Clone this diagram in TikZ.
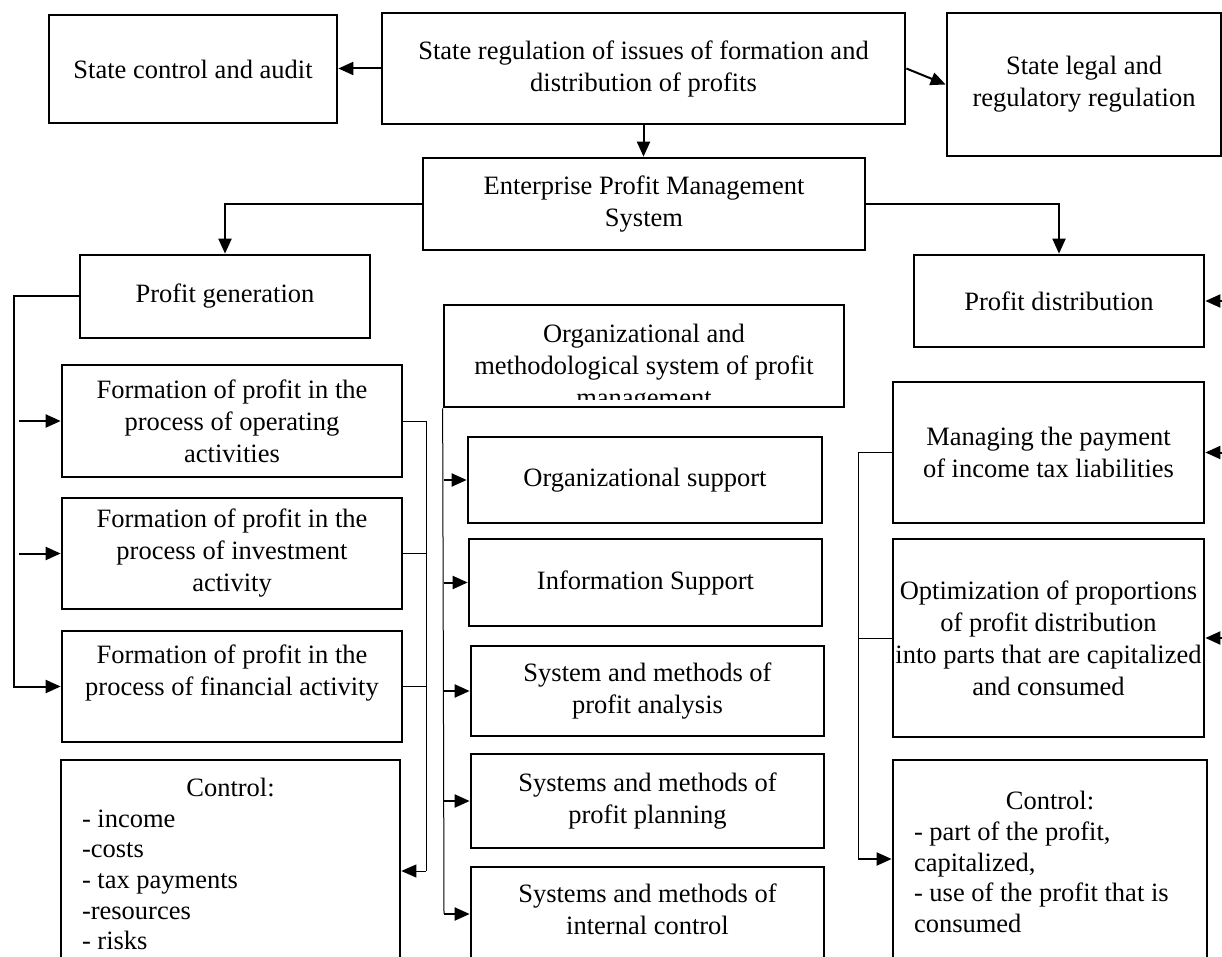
\documentclass[tikz,border=0pt]{standalone}
\usepackage{fontspec}
\setmainfont{Liberation Serif}
\usetikzlibrary{arrows.meta}

\begin{document}
\begin{tikzpicture}[x=1pt,y=-1pt]
\tikzstyle{blok}=[draw,line width=2.7pt,align=center,inner sep=0pt,font=\fontsize{26.5}{32}\selectfont]
\tikzstyle{list}=[text width=#1,align=flush left,font=\fontsize{26.5}{30.7}\selectfont]
\tikzstyle{arr}=[line width=2pt,-{Triangle[length=15pt,width=13pt]}]
\tikzstyle{wire}=[line width=1pt]
\useasboundingbox (0,0) rectangle (1222,957);
\clip (0,0) rectangle (1222,957);
\node[blok,minimum width=288,minimum height=108] (sca) at (193,69) {State control and audit};
\node[blok,minimum width=523,minimum height=111] (sr) at (643.5,68.5) {State regulation of issues of formation and\\distribution of profits};
\node[blok,minimum width=274,minimum height=143] (sl) at (1084,84.5) {State legal and\\regulatory regulation};
\node[blok,minimum width=442,minimum height=92] (epms) at (644,204) {Enterprise Profit Management\\System};
\node[blok,minimum width=290,minimum height=83] (pg) at (225,296.5) {Profit generation};
\node[blok,minimum width=290,minimum height=92] (pd) at (1059,301) {Profit distribution};
\node[blok,minimum width=400,minimum height=102] (oms) at (644,356) {};
\begin{scope}
\clip (oms.north west) rectangle ([yshift=9pt]oms.south east);
\node[blok,draw=none] (omstxt) at (644,368) {Organizational and\\methodological system of profit\\management};
\end{scope}
\node[blok,minimum width=340,minimum height=112] (form1) at (232,421) {Formation of profit in the\\process of operating\\activities};
\node[blok,minimum width=340,minimum height=111] (form2) at (232,553.5) {Formation of profit in the\\process of investment\\activity};
\node[blok,minimum width=340,minimum height=111] (form3) at (232,686.5) {Formation of profit in the\\process of financial activity\\\mbox{}};
\node[blok,list=297,minimum width=339,minimum height=208] (ctrll) at (230.5,864) {\makebox[\linewidth]{Control:}\\- income\\-costs\\- tax payments\\-resources\\- risks};
\node[blok,minimum width=354,minimum height=86] (m1) at (645,480) {Organizational support};
\node[blok,minimum width=353,minimum height=87] (m2) at (645.5,582.5) {Information Support};
\node[blok,minimum width=353,minimum height=90] (m3) at (647.5,691) {System and methods of\\profit analysis};
\node[blok,minimum width=353,minimum height=94] (m4) at (647.5,801) {Systems and methods of\\profit planning};
\node[blok,minimum width=353,minimum height=116] (m5) at (647.5,925) {Systems and methods of\\internal control\\\mbox{}};
\node[blok,minimum width=311,minimum height=141] (rt1) at (1048.5,452.5) {Managing the payment\\of income tax liabilities};
\node[blok,minimum width=311,minimum height=198] (rt2) at (1048.5,638) {Optimization of proportions\\of profit distribution\\into parts that are capitalized\\and consumed};
\node[blok,list=272,minimum width=314,minimum height=204] (rt3) at (1050,862) {\makebox[\linewidth]{Control:}\\- part of the profit,\\capitalized,\\- use of the profit that is\\consumed};

\draw[arr] (sr.west) -- (sr.west -| sca.east);
\draw[arr] (sr.east) -- (sl.west);
\draw[arr] (sr.south) -- (sr.south |- epms.north);
\draw[arr] (epms.west) -| (pg.north);
\draw[arr] (epms.east) -| (pd.north);

\coordinate (lbus) at (14,0);
\draw[arr] (pg.west) -| (lbus |- form3.west) -- (form3.west);
\foreach \n in {form1,form2}{
  \coordinate (\n-in) at ([xshift=-42pt]\n.west);
  \draw[arr] (\n-in) -- (\n.west);
}
\coordinate (fbus) at (426,871);
\draw[wire] (form1.east) -| (fbus);
\foreach \n in {form2,form3} \draw[wire] (\n.east) -- (\n.east -| fbus);
\draw[arr,wire] (fbus) -- (fbus -| ctrll.east);

\coordinate (mbus) at (444,914);
\draw[wire] (oms.south west) -- (mbus);
\foreach \n in {m1,m2,m3,m4} \draw[arr] (\n.west -| mbus) -- (\n.west);
\draw[arr] (mbus) -- (mbus -| m5.west);

\coordinate (rbus) at (858,859);
\draw[wire] (rt1.west) -| (rbus);
\draw[wire] (rt2.west) -- (rt2.west -| rbus);
\draw[arr] (rbus) -- (rbus -| rt3.west);

\coordinate (redge) at (1224,0);
\foreach \n in {pd,rt1,rt2} \draw[arr] (\n.east -| redge) -- (\n.east);
\end{tikzpicture}
\end{document}
